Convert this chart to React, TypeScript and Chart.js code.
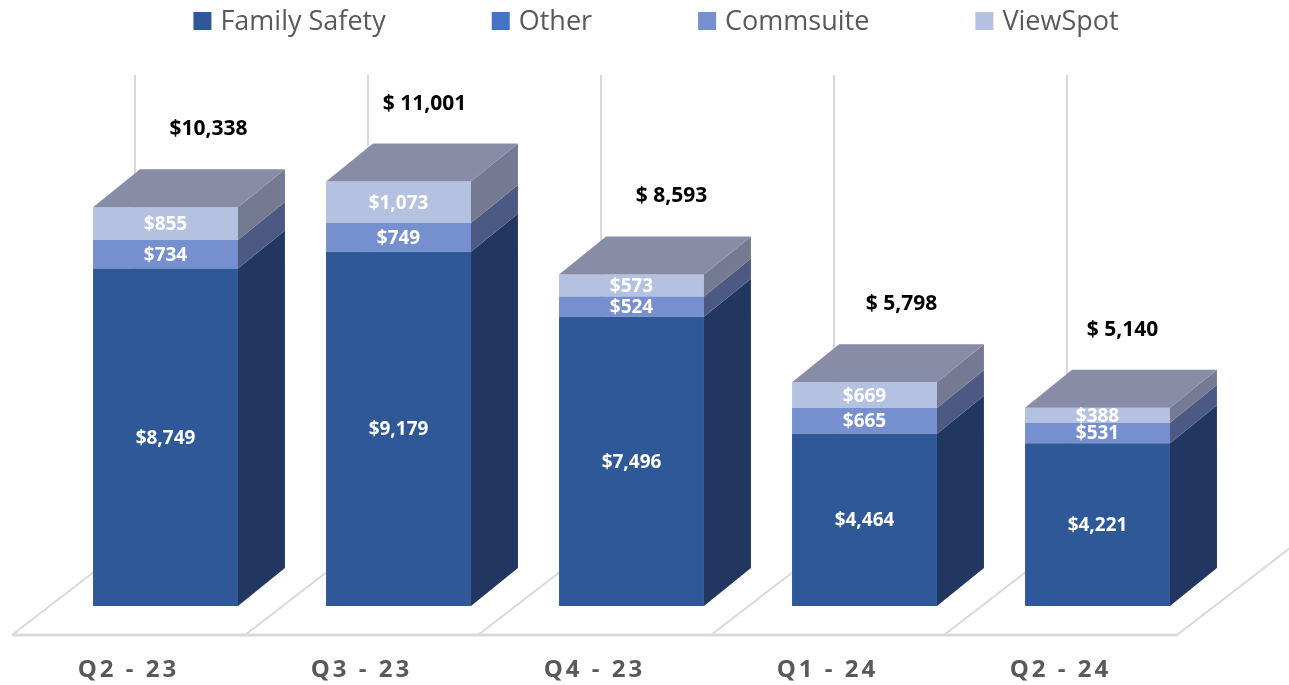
import React, { useEffect, useRef } from 'react';
import { Chart, registerables } from 'chart.js';

Chart.register(...registerables);

const categories = ['Q2 - 23', 'Q3 - 23', 'Q4 - 23', 'Q1 - 24', 'Q2 - 24'];
const seriesNames = ['Family Safety', 'Other', 'Commsuite', 'ViewSpot'];
const familySafety = [8749, 9179, 7496, 4464, 4221];
const other = [0, 0, 0, 0, 0];
const commsuite = [734, 749, 524, 665, 531];
const viewSpot = [855, 1073, 573, 669, 388];
const totalLabels = ['$10,338', '$ 11,001', '$ 8,593', '$ 5,798', '$ 5,140'];

// styling
const frontColors = ['#2F5898', '#4472C4', '#7690CF', '#B4C1E1'];
const sideColors = ['#213761', '#30508A', '#4B5983', '#737A92'];
const topColors = ['#5B6A8E', '#6A7BA0', '#7C86A8', '#878DA7'];
const totalNudgeX = [43, 26, 40, 37, 25];
const DEPTH_DX = 47;
const DEPTH_DY = -38;
const FLOOR_FRONT_DX = -37;
const FLOOR_FRONT_DY = 29;
const FLOOR_DEPTH_DX = 113;
const FLOOR_DEPTH_DY = -87;
const WALL_DX = 86;
const WALL_TOP_DY = -68;
const WALL_BOTTOM_DY = -58;
const FONT = "'Open Sans', 'Noto Sans', sans-serif";

const fmt = (v: number) => '$' + v.toLocaleString('en-US');

const threeDPlugin = {
  id: 'threeD',
  beforeDraw(chart: any) {
    chart.ctx.letterSpacing = '3px';
  },
  beforeDatasetsDraw(chart: any) {
    const { ctx, chartArea, scales } = chart;
    const x = scales.x;
    const y = scales.y;
    ctx.letterSpacing = '0px';
    ctx.save();
    const n = categories.length;
    const cw = (chartArea.right - chartArea.left) / n;
    const y0 = y.getPixelForValue(0);
    const yTop = y.getPixelForValue(y.max);
    ctx.strokeStyle = '#D9D9D9';
    // back wall lines
    ctx.lineWidth = 2;
    for (let i = 0; i < n; i++) {
      const b = x.getPixelForValue(i) - cw / 2 + WALL_DX;
      ctx.beginPath();
      ctx.moveTo(b, yTop + WALL_TOP_DY);
      ctx.lineTo(b, y0 + WALL_BOTTOM_DY);
      ctx.stroke();
    }
    // floor separators
    for (let i = 0; i <= n; i++) {
      const b = x.getPixelForValue(0) - cw / 2 + i * cw + FLOOR_FRONT_DX;
      const fy = y0 + FLOOR_FRONT_DY;
      ctx.beginPath();
      ctx.moveTo(b, fy);
      ctx.lineTo(b + FLOOR_DEPTH_DX, fy + FLOOR_DEPTH_DY);
      ctx.stroke();
    }
    // floor front edge
    ctx.lineWidth = 3;
    ctx.beginPath();
    ctx.moveTo(chartArea.left + FLOOR_FRONT_DX, y0 + FLOOR_FRONT_DY);
    ctx.lineTo(chartArea.right + FLOOR_FRONT_DX, y0 + FLOOR_FRONT_DY);
    ctx.stroke();
    ctx.restore();
  },
  afterDatasetsDraw(chart: any) {
    const { ctx } = chart;
    ctx.save();
    ctx.letterSpacing = '0px';
    const datasets = chart.data.datasets;
    const n = categories.length;
    for (let i = 0; i < n; i++) {
      let topEl: any = null;
      let topD = -1;
      datasets.forEach((ds: any, d: number) => {
        const v = ds.data[i];
        if (!v) return;
        const el = chart.getDatasetMeta(d).data[i];
        const { x: cx, y: ty, base, width } = el.getProps(['x', 'y', 'base', 'width'], true);
        const r = cx + width / 2;
        ctx.fillStyle = sideColors[d];
        ctx.beginPath();
        ctx.moveTo(r, ty);
        ctx.lineTo(r + DEPTH_DX, ty + DEPTH_DY);
        ctx.lineTo(r + DEPTH_DX, base + DEPTH_DY);
        ctx.lineTo(r, base);
        ctx.closePath();
        ctx.fill();
        topEl = el;
        topD = d;
      });
      if (topEl) {
        const { x: cx, y: ty, width } = topEl.getProps(['x', 'y', 'width'], true);
        const l = cx - width / 2;
        const r = cx + width / 2;
        ctx.fillStyle = topColors[topD];
        ctx.beginPath();
        ctx.moveTo(l, ty);
        ctx.lineTo(l + DEPTH_DX, ty + DEPTH_DY);
        ctx.lineTo(r + DEPTH_DX, ty + DEPTH_DY);
        ctx.lineTo(r, ty);
        ctx.closePath();
        ctx.fill();
        // total label
        ctx.fillStyle = '#000000';
        ctx.font = `bold 21px ${FONT}`;
        ctx.textAlign = 'center';
        ctx.textBaseline = 'middle';
        ctx.fillText(totalLabels[i], cx + totalNudgeX[i], ty - 78);
      }
      // segment labels
      datasets.forEach((ds: any, d: number) => {
        const v = ds.data[i];
        if (!v) return;
        const el = chart.getDatasetMeta(d).data[i];
        const { x: cx, y: ty, base } = el.getProps(['x', 'y', 'base'], true);
        ctx.fillStyle = '#FFFFFF';
        ctx.font = `bold 19px ${FONT}`;
        ctx.textAlign = 'center';
        ctx.textBaseline = 'middle';
        ctx.fillText(fmt(v), cx, (ty + base) / 2 + 1);
      });
    }
    ctx.restore();
  },
  afterDraw(chart: any) {
    const { ctx } = chart;
    ctx.save();
    ctx.letterSpacing = '0px';
    ctx.font = `27px ${FONT}`;
    ctx.textBaseline = 'middle';
    ctx.textAlign = 'left';
    const box = 18;
    const gap = 9;
    const itemGap = 106;
    const items = chart.data.datasets.map((ds: any) => ({
      label: ds.label,
      color: ds.backgroundColor,
      w: box + gap + ctx.measureText(ds.label).width,
    }));
    const total = items.reduce((s: number, it: any) => s + it.w, 0) + itemGap * (items.length - 1);
    let cx = 656 - total / 2;
    const cy = 21;
    items.forEach((it: any) => {
      ctx.fillStyle = it.color;
      ctx.fillRect(cx, cy - box / 2, box, box);
      ctx.fillStyle = '#595959';
      ctx.fillText(it.label, cx + box + gap, cy + 1);
      cx += it.w + itemGap;
    });
    ctx.restore();
  },
};

export default function App() {
  const ref = useRef<HTMLCanvasElement | null>(null);
  useEffect(() => {
    if (!ref.current) return;
    const seriesData = [familySafety, other, commsuite, viewSpot];
    const chart = new Chart(ref.current, {
      type: 'bar',
      data: {
        labels: categories,
        datasets: seriesNames.map((name, d) => ({
          label: name,
          data: seriesData[d],
          backgroundColor: frontColors[d],
          borderWidth: 0,
          categoryPercentage: 1,
          barPercentage: 0.622,
        })),
      },
      options: {
        responsive: false,
        animation: false,
        layout: { padding: { top: 143, left: 49, right: 75, bottom: 0 } },
        plugins: {
          legend: { display: false },
          tooltip: { enabled: false },
        },
        scales: {
          x: {
            stacked: true,
            grid: { display: false },
            border: { display: false },
            ticks: {
              color: '#595959',
              font: { family: FONT, size: 24, weight: 'bold' },
              labelOffset: -37,
              padding: 42,
              maxRotation: 0,
            },
            afterFit: (scale: any) => {
              scale.height = 79;
            },
          },
          y: {
            stacked: true,
            display: false,
            min: 0,
            max: 12000,
          },
        },
      },
      plugins: [threeDPlugin],
    });
    return () => chart.destroy();
  }, []);
  return (
    <div style={{ position: 'absolute', left: 0, top: 0, width: 1289, height: 685, background: '#ffffff' }}>
      <canvas ref={ref} width={1289} height={685} />
    </div>
  );
}
